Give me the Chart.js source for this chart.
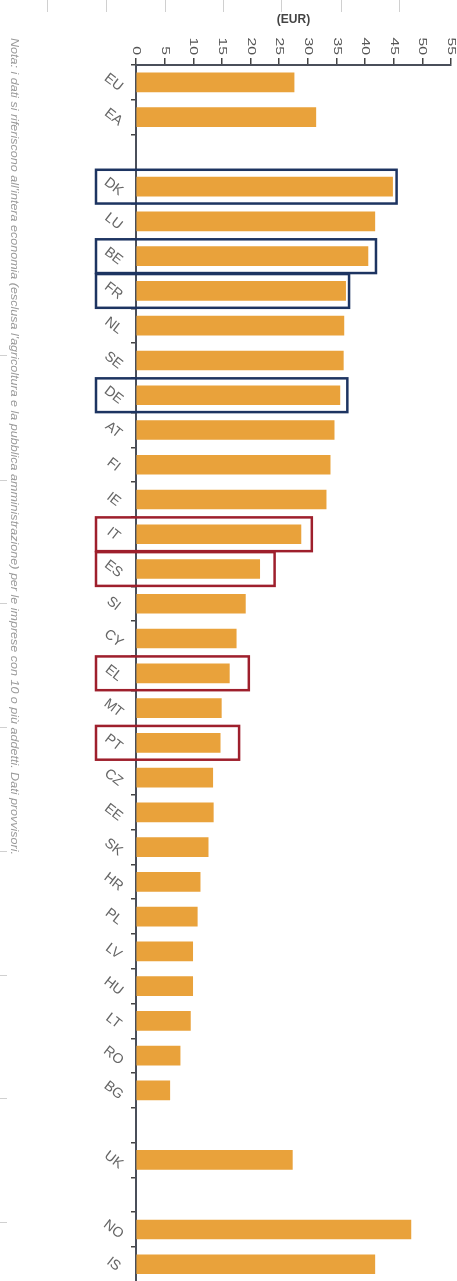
<!DOCTYPE html>
<html>
<head>
<meta charset="utf-8">
<script src="https://cdn.jsdelivr.net/npm/chart.js@4.4.0/dist/chart.umd.min.js"></script>
<style>
body { margin: 0; background: #fff; overflow: hidden; }
#wrap { position: relative; width: 457px; height: 1297px; }
</style>
</head>
<body>
<div id="wrap"><canvas id="myChart"></canvas></div>
<script>
// empty strings are the gaps between the groups
var countries = ['EU', 'EA', '', 'DK', 'LU', 'BE', 'FR', 'NL', 'SE', 'DE', 'AT', 'FI', 'IE', 'IT', 'ES', 'SI', 'CY', 'EL', 'MT', 'PT',
    'CZ', 'EE', 'SK', 'HR', 'PL', 'LV', 'HU', 'LT', 'RO', 'BG', '', 'UK', '', 'NO', 'IS'];
var costs = [27.6, 31.4, null, 44.8, 41.7, 40.5, 36.6, 36.3, 36.2, 35.6, 34.6, 33.9, 33.2, 28.8, 21.6, 19.1, 17.5, 16.3, 14.9, 14.7,
    13.4, 13.5, 12.6, 11.2, 10.7, 9.9, 9.9, 9.5, 7.7, 5.9, null, 27.3, null, 48.0, 41.7];

// highlighted countries, box right edge in EUR
var blueBoxes = ['DK', 'BE', 'FR', 'DE'];
var blueBoxEnds = [45.5, 41.9, 37.2, 36.9];
var redBoxes = ['IT', 'ES', 'EL', 'PT'];
var redBoxEnds = [30.7, 24.2, 19.7, 18.0];

var note = "Nota: i dati si riferiscono all'intera economia (esclusa l'agricoltura e la pubblica amministrazione) per le imprese con 10 o più addetti. Dati provvisori.";

var font = '"Liberation Sans", Arial, sans-serif';

function drawBoxes(c, xs, ys, names, ends, color) {
    var step = ys.getPixelForValue(1) - ys.getPixelForValue(0);
    var h = step / 2 - 0.5;
    var left = xs.left - 40;
    c.strokeStyle = color;
    c.lineWidth = 2.5;
    for (var i = 0; i < names.length; i++) {
        var yc = ys.getPixelForValue(countries.indexOf(names[i]));
        c.strokeRect(left, yc - h, xs.getPixelForValue(ends[i]) - left, 2 * h);
    }
}

var extras = {
    id: 'extras',
    afterDatasetsDraw: function (chart) {
        var c = chart.ctx;
        c.save();
        drawBoxes(c, chart.scales.x, chart.scales.y, blueBoxes, blueBoxEnds, '#1d3461');
        drawBoxes(c, chart.scales.x, chart.scales.y, redBoxes, redBoxEnds, '#9e1f2c');
        c.restore();
    },
    afterDraw: function (chart) {
        var c = chart.ctx, xs = chart.scales.x;
        c.save();
        // top tick labels, turned like the rest of the picture
        c.fillStyle = '#555';
        c.font = '10.5px ' + font;
        xs.ticks.forEach(function (t) {
            c.save();
            c.translate(xs.getPixelForValue(t.value), 55);
            c.rotate(Math.PI / 2);
            c.scale(1.5, 1);
            c.textAlign = 'right';
            c.textBaseline = 'middle';
            c.fillText(String(t.value), 0, 0);
            c.restore();
        });
        // note along the left edge
        c.save();
        c.fillStyle = '#999';
        c.font = 'italic 10.5px ' + font;
        var w = c.measureText(note).width;
        c.translate(14, 38);
        c.rotate(Math.PI / 2);
        c.scale(817 / w, 1);
        c.textAlign = 'left';
        c.textBaseline = 'middle';
        c.fillText(note, 0, 0);
        c.restore();
        // faint remains of the page frame
        c.strokeStyle = '#d0d0d0';
        c.lineWidth = 1;
        [47, 106, 165, 223, 281, 341, 399].forEach(function (x) {
            c.beginPath(); c.moveTo(x + 0.5, 0); c.lineTo(x + 0.5, 12); c.stroke();
        });
        [355, 480, 603, 727, 851, 975, 1098, 1222].forEach(function (y) {
            c.beginPath(); c.moveTo(0, y + 0.5); c.lineTo(7, y + 0.5); c.stroke();
        });
        c.restore();
    }
};

var ctx = document.getElementById('myChart');
var myChart = new Chart(ctx, {
    type: 'bar',
    data: {
        labels: countries,
        datasets: [{
            data: costs,
            backgroundColor: '#e9a23b',
            borderWidth: 0,
            barThickness: 19
        }]
    },
    options: {
        indexAxis: 'y',
        responsive: true,
        maintainAspectRatio: false,
        animation: false,
        layout: { padding: { left: 0, right: 6, top: 0, bottom: 0 } },
        plugins: {
            legend: { display: false },
            tooltip: { enabled: false }
        },
        scales: {
            x: {
                position: 'top',
                min: 0,
                max: 55,
                ticks: { stepSize: 5, display: false },
                grid: { drawOnChartArea: false, tickLength: 7, color: '#444', lineWidth: 1.5 },
                border: { color: '#4a4f5a', width: 2 },
                title: {
                    display: true,
                    text: '(EUR)',
                    color: '#444',
                    font: { family: font, size: 12, weight: 'bold' },
                    padding: { top: 12, bottom: 0 }
                },
                afterFit: function (s) { s.height = 65; }
            },
            y: {
                ticks: {
                    autoSkip: false,
                    minRotation: -38,
                    crossAlign: 'center',
                    padding: 7,
                    color: '#666',
                    font: { family: font, size: 14 }
                },
                grid: { drawOnChartArea: false, tickLength: 5, color: '#444', lineWidth: 1.5 },
                border: { color: '#4a4f5a', width: 2 },
                afterFit: function (s) { s.width = 136; }
            }
        }
    },
    plugins: [extras]
});
</script>
</body>
</html>
